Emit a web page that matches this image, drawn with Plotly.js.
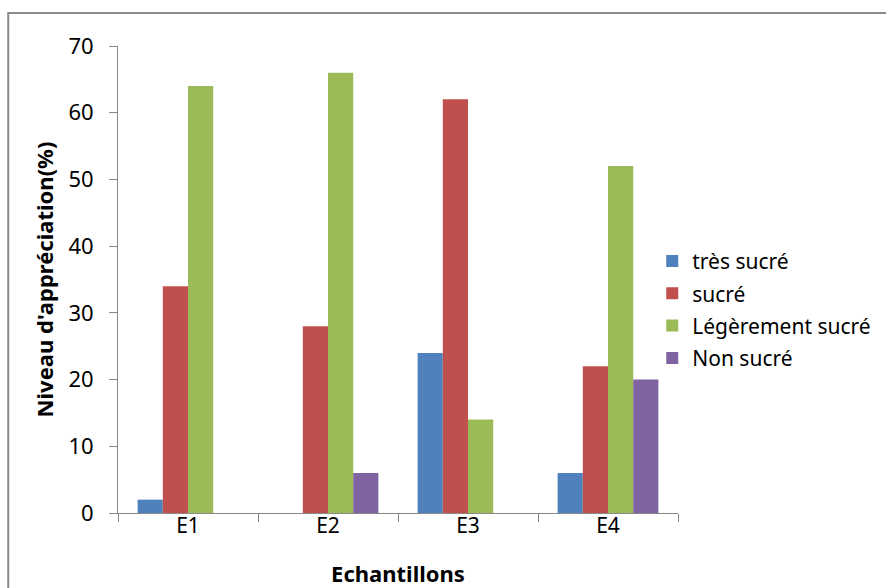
<!DOCTYPE html>
<html><head><meta charset="utf-8">
<script src="https://cdn.plot.ly/plotly-3.0.1.min.js"></script>
<style>html,body{margin:0;padding:0;background:#fff}</style>
</head><body>
<div id="chart" style="width:886px;height:588px"></div>
<script>
const categories = ["E1", "E2", "E3", "E4"];
const seriesNames = ["très sucré", "sucré", "Légèrement sucré", "Non sucré"];
const tresSucre = [2, 0, 24, 6];
const sucre = [34, 28, 62, 22];
const legerementSucre = [64, 66, 14, 52];
const nonSucre = [0, 6, 0, 20];
const yTicks = [0, 10, 20, 30, 40, 50, 60, 70];
const colors = ["#4F81BD", "#C0504D", "#9BBB59", "#8064A2"];

const FONT = "Noto Sans, DejaVu Sans, sans-serif";
const allSeries = [tresSucre, sucre, legerementSucre, nonSucre];
const traces = allSeries.map((vals, i) => ({
  type: "bar", x: categories, y: vals, name: seriesNames[i],
  legendgroup: "g" + i,
  marker: {color: colors[i], line: {width: 0}}
}));

const layout = {
  width: 886, height: 588,
  margin: {l: 118, r: 208, t: 46, b: 75, autoexpand: false},
  paper_bgcolor: "#fff", plot_bgcolor: "#fff",
  font: {family: FONT, size: 22, color: "#000"},
  barmode: "group", bargap: 0.28, bargroupgap: 0,
  showlegend: true,
  legend: {x: 0.954, xanchor: "left", y: 0.435, yanchor: "middle",
           font: {family: FONT, size: 21, color: "#000"},
           traceorder: "grouped", tracegroupgap: 2, bgcolor: "rgba(0,0,0,0)"},
  xaxis: {
    type: "category", showgrid: false, zeroline: false,
    showline: true, linecolor: "#888", linewidth: 1,
    ticks: "outside", tickson: "boundaries", ticklen: 8, tickcolor: "#888",
    ticklabelstandoff: -6,
    tickfont: {family: FONT, size: 21},
    title: {text: "<b>Echantillons</b>", font: {family: FONT, size: 22}, standoff: 28}
  },
  yaxis: {
    range: [0, 70], tickvals: yTicks, showgrid: false, zeroline: false,
    showline: true, linecolor: "#888", linewidth: 1,
    ticks: "outside", ticklen: 8, tickcolor: "#888",
    ticklabelstandoff: 11,
    tickfont: {family: FONT, size: 22},
    title: {text: "<b>Niveau d'appréciation(%)</b>", font: {family: FONT, size: 22}, standoff: 8}
  },
  shapes: [{type: "rect", xref: "paper", yref: "paper",
            x0: -0.196, x1: 1.6, y0: -0.3, y1: 1.0707,
            line: {color: "#8a8a8a", width: 2}, fillcolor: "rgba(0,0,0,0)", layer: "below"}]
};
Plotly.newPlot("chart", traces, layout, {displayModeBar: false, staticPlot: true});
</script>
</body></html>
